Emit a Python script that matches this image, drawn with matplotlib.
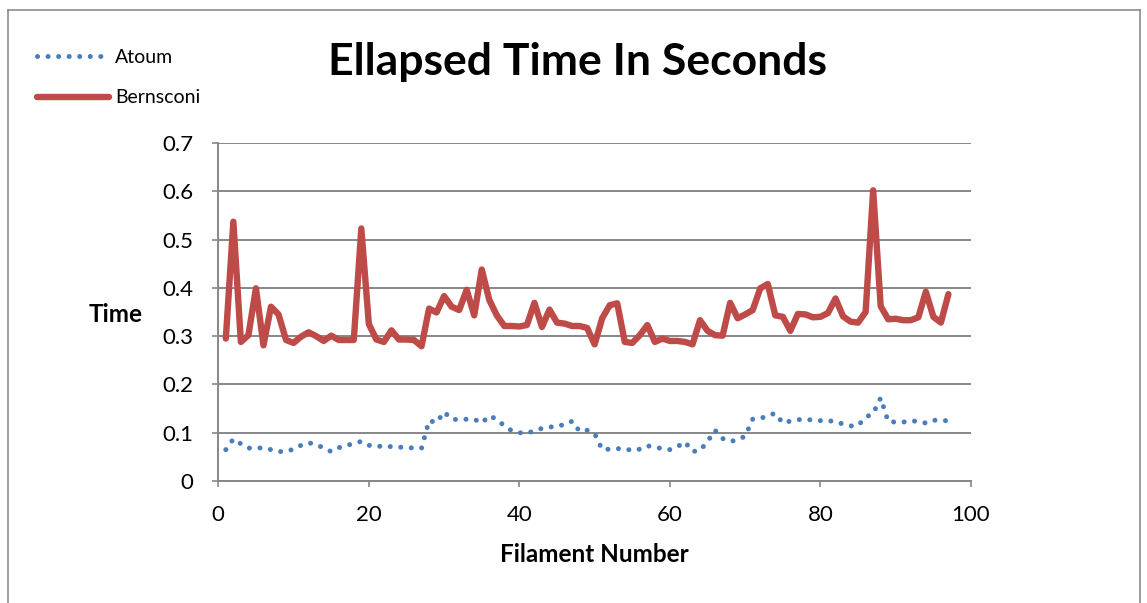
import numpy as np
import matplotlib.pyplot as plt
from matplotlib.lines import Line2D

# filament index and elapsed time (seconds) for each algorithm
filament = np.arange(1, 98)

atoum = [0.065, 0.087, 0.077, 0.068, 0.069, 0.068, 0.065, 0.061, 0.061, 0.066,
         0.074, 0.079, 0.076, 0.068, 0.061, 0.069, 0.073, 0.078, 0.082, 0.074,
         0.071, 0.073, 0.071, 0.070, 0.070, 0.068, 0.068, 0.125, 0.121, 0.143,
         0.128, 0.127, 0.128, 0.128, 0.120, 0.135, 0.128, 0.114, 0.104, 0.100,
         0.099, 0.104, 0.109, 0.111, 0.115, 0.116, 0.124, 0.103, 0.105, 0.098,
         0.065, 0.066, 0.067, 0.067, 0.063, 0.066, 0.073, 0.070, 0.067, 0.065,
         0.071, 0.081, 0.061, 0.063, 0.082, 0.105, 0.088, 0.082, 0.085, 0.093,
         0.128, 0.129, 0.136, 0.140, 0.120, 0.124, 0.127, 0.128, 0.126, 0.125,
         0.125, 0.123, 0.118, 0.114, 0.115, 0.132, 0.140, 0.172, 0.123, 0.122,
         0.122, 0.125, 0.123, 0.120, 0.126, 0.125, 0.125]

bernsconi = [0.295, 0.537, 0.288, 0.302, 0.399, 0.281, 0.361, 0.345, 0.292, 0.286,
             0.299, 0.308, 0.300, 0.290, 0.301, 0.292, 0.292, 0.292, 0.523, 0.325,
             0.293, 0.288, 0.312, 0.293, 0.293, 0.292, 0.279, 0.357, 0.349, 0.383,
             0.361, 0.354, 0.396, 0.343, 0.438, 0.375, 0.343, 0.321, 0.321, 0.320,
             0.323, 0.369, 0.319, 0.355, 0.328, 0.326, 0.321, 0.321, 0.317, 0.283,
             0.337, 0.364, 0.368, 0.288, 0.286, 0.302, 0.323, 0.288, 0.295, 0.290,
             0.290, 0.288, 0.283, 0.333, 0.311, 0.302, 0.301, 0.369, 0.337, 0.345,
             0.354, 0.399, 0.408, 0.343, 0.340, 0.311, 0.346, 0.345, 0.339, 0.340,
             0.348, 0.378, 0.341, 0.330, 0.328, 0.350, 0.602, 0.362, 0.335, 0.336,
             0.333, 0.333, 0.339, 0.392, 0.340, 0.328, 0.387]

x_ticks = [0, 20, 40, 60, 80, 100]
y_ticks = [0, 0.1, 0.2, 0.3, 0.4, 0.5, 0.6, 0.7]

blue = "#4A7EBB"
red = "#BE4B48"
grid_gray = "#878787"

plt.rcParams['font.family'] = ['Lato', 'DejaVu Sans']

W, H = 1147, 603
fig = plt.figure(figsize=(W / 100, H / 100), dpi=100)
ax = fig.add_axes([218.3 / W, 1 - 481 / H, (971 - 218.3) / W, (481 - 143) / H])

dotted = (0, (0.01, 2.1))
ax.plot(filament, atoum, color=blue, lw=3.6, linestyle=dotted,
        dash_capstyle="round", zorder=3)
ax.plot(filament, bernsconi, color=red, lw=4.6, solid_joinstyle="round",
        solid_capstyle="round", zorder=3)

ax.set_xlim(0, 100)
ax.set_ylim(0, 0.7)
ax.set_xticks(x_ticks)
ax.set_yticks(y_ticks)
ax.set_xticklabels([str(t) for t in x_ticks])
ax.set_yticklabels(["0"] + [f"{t:.1f}" for t in y_ticks[1:]])

ax.yaxis.grid(True, color=grid_gray, lw=1.4)
ax.set_axisbelow(True)
for side in ["top", "right"]:
    ax.spines[side].set_visible(False)
for side in ["left", "bottom"]:
    ax.spines[side].set_color(grid_gray)
    ax.spines[side].set_linewidth(1.4)
ax.tick_params(axis="both", direction="out", length=4, width=1.2,
               color=grid_gray, labelsize=16, labelcolor="black")
ax.tick_params(axis="y", pad=14)
ax.tick_params(axis="x", pad=13)

fig.text(578 / W, 1 - 62 / H, "Ellapsed Time In Seconds", ha="center",
         va="center", fontsize=32, fontweight="bold")
fig.text(116 / W, 1 - 314 / H, "Time", ha="center", va="center",
         fontsize=17.5, fontweight="bold")
fig.text(594 / W, 1 - 554 / H, "Filament Number", ha="center", va="center",
         fontsize=17.5, fontweight="bold")

handles = [
    Line2D([], [], color=blue, lw=3.6, linestyle=dotted, dash_capstyle="round"),
    Line2D([], [], color=red, lw=4.6, solid_capstyle="round"),
]
fig.legend(handles, ["Atoum", "Bernsconi"], loc="upper left",
           bbox_to_anchor=(37 / W, 1 - 49 / H), frameon=False, fontsize=14,
           handlelength=3.7, handletextpad=0.3, labelspacing=1.2,
           borderpad=0, borderaxespad=0)

# chart frame
frame = [8 / W, 1140 / W, 1 - 10 / H]
fig.add_artist(Line2D([frame[0], frame[0]], [0, frame[2]], color="#8C8C8C", lw=1.2))
fig.add_artist(Line2D([frame[0], frame[1]], [frame[2], frame[2]], color="#8C8C8C", lw=1.2))
fig.add_artist(Line2D([frame[1], frame[1]], [0, frame[2]], color="#8C8C8C", lw=1.2))

fig.savefig("out.png", dpi=100)
